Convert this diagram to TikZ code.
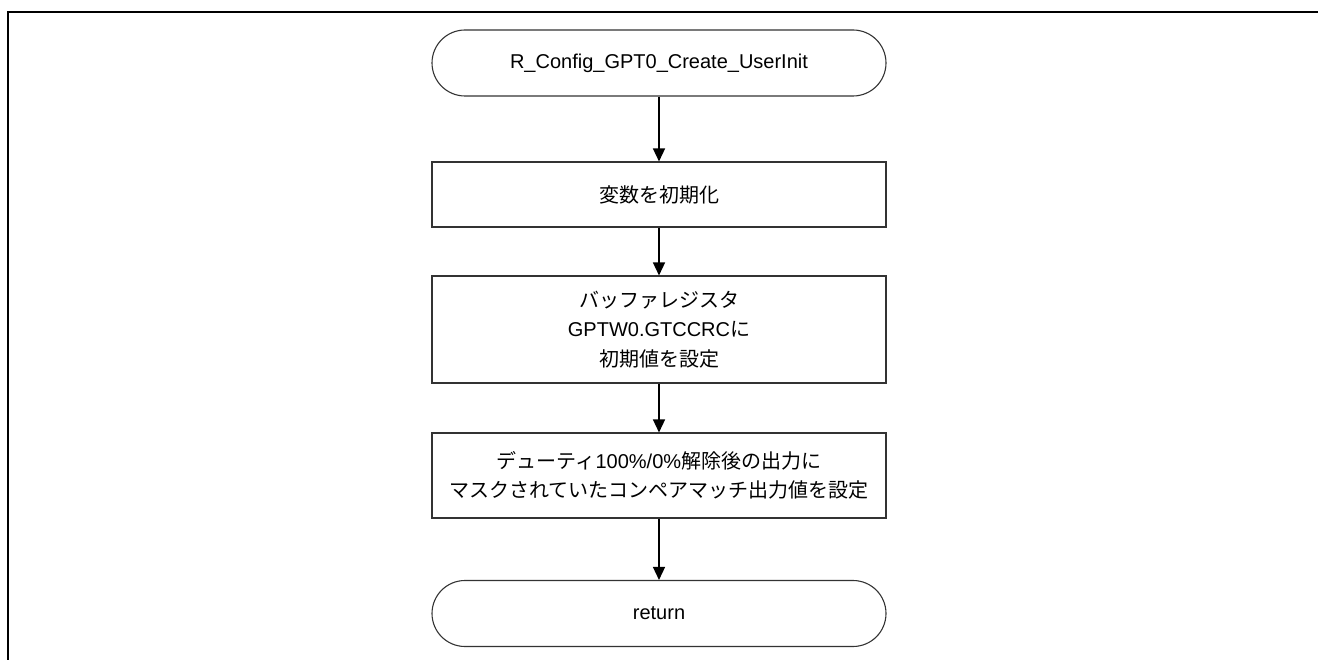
\documentclass[tikz,border=0pt]{standalone}
\usepackage{fontspec}
\setmainfont{Liberation Sans}
\newfontfamily\jpfont{Noto Sans CJK JP}
\usetikzlibrary{positioning,arrows.meta}

\tikzset{
 procbox/.style={draw=black!80,line width=1.1pt,minimum width=454pt,align=center,inner sep=0pt},
 termbox/.style={procbox,rounded corners=33pt,minimum height=66pt},
 flowarrow/.style={line width=1.5pt,-{Triangle[length=13pt,width=12pt]}}
}

\begin{document}
\begin{tikzpicture}[x=1pt,y=-1pt,font=\fontsize{20}{29.5}\selectfont]
\useasboundingbox (0,0) rectangle (1318,660);
\draw[line width=2.5pt] (8,660)--(8,12)--(1318,12);
\node[termbox] (start) at (659,63) {R\_Config\_GPT0\_Create\_UserInit};
\node[procbox,minimum height=65pt] (init) at (659,194.5) {\jpfont 変数を初期化};
\node[procbox,minimum height=107pt] (buf) at (659,329.5) {{\jpfont バッファレジスタ}\\GPTW0.GTCCRC{\jpfont に}\\{\jpfont 初期値を設定}};
\node[procbox,minimum height=85pt] (mask) at (659,475.5) {{\jpfont デューティ}100\%/0\%{\jpfont 解除後の出力に}\\{\jpfont マスクされていたコンペアマッチ出力値を設定}};
\node[termbox] (ret) at (659,613.5) {return};
\foreach \a/\b in {start/init,init/buf,buf/mask,mask/ret}
 \draw[flowarrow] (\a) -- (\b);
\end{tikzpicture}
\end{document}
